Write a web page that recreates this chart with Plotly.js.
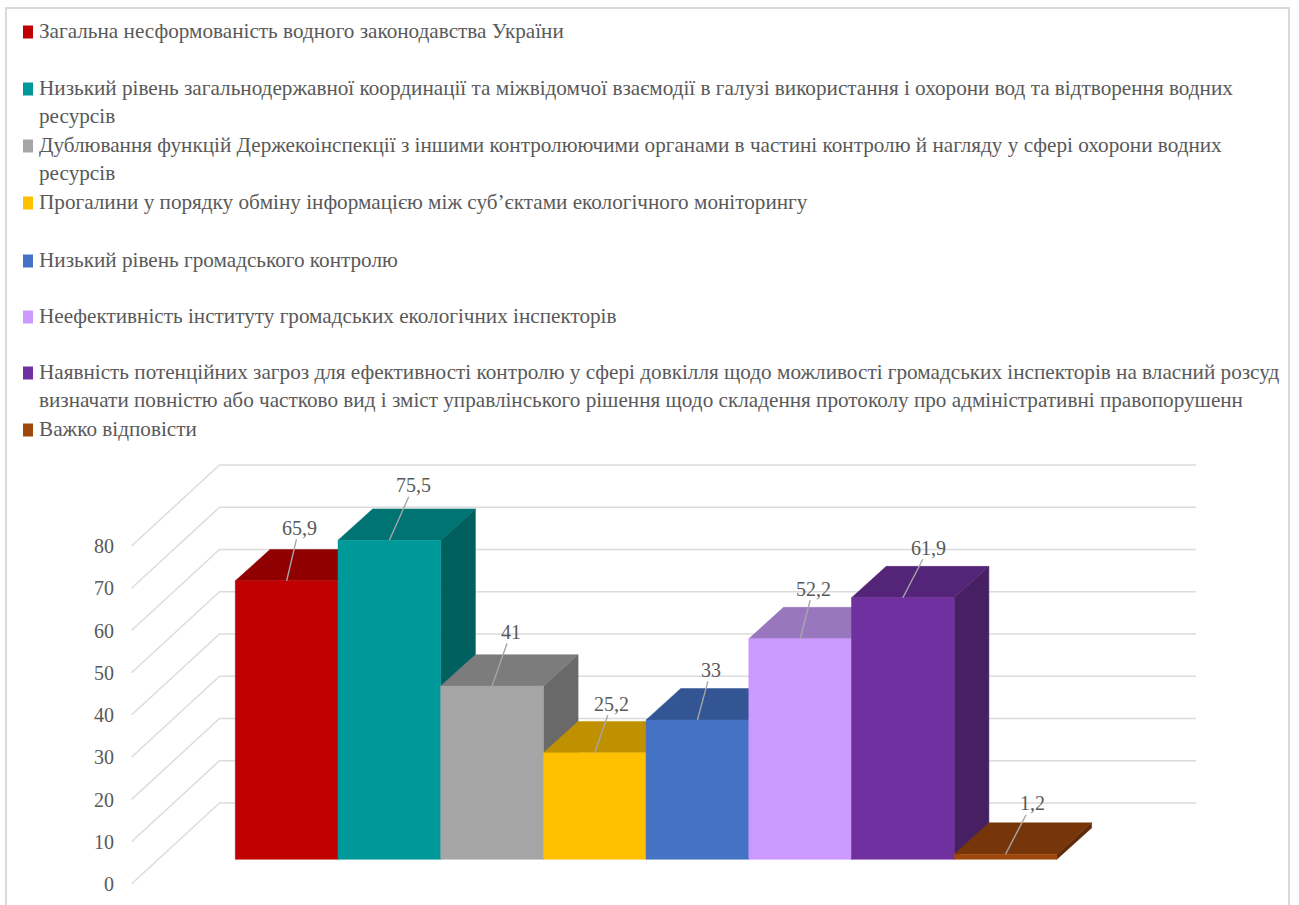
<!DOCTYPE html>
<html>
<head>
<meta charset="utf-8">
<script src="https://cdn.plot.ly/plotly-3.0.1.min.js"></script>
<style>html,body{margin:0;padding:0;background:#fff;overflow:hidden}#chart{width:1299px;height:905px}</style>
</head>
<body>
<div id="chart"></div>
<script>
// ---- data ----
const categories = [
  "Загальна несформованість водного законодавства України",
  "Низький рівень загальнодержавної координації та міжвідомчої взаємодії в галузі використання і охорони вод та відтворення водних<br>ресурсів",
  "Дублювання функцій Держекоінспекції з іншими контролюючими органами в частині контролю й нагляду у сфері охорони водних<br>ресурсів",
  "Прогалини у порядку обміну інформацією між суб’єктами екологічного моніторингу",
  "Низький рівень громадського контролю",
  "Неефективність інституту громадських екологічних інспекторів",
  "Наявність потенційних загроз для ефективності контролю у сфері довкілля щодо можливості громадських інспекторів на власний розсуд<br>визначати повністю або частково вид і зміст управлінського рішення щодо складення протоколу про адміністративні правопорушенн",
  "Важко відповісти"
];
const values = [65.9, 75.5, 41, 25.2, 33, 52.2, 61.9, 1.2];
const valueLabels = ["65,9", "75,5", "41", "25,2", "33", "52,2", "61,9", "1,2"];
const frontColors = ["#C00000", "#009999", "#A5A5A5", "#FFC000", "#4472C4", "#CC99FF", "#7030A0", "#9E480E"];
const topColors   = ["#900000", "#007373", "#7C7C7C", "#BF9000", "#335593", "#9977BF", "#542478", "#77360A"];
const sideColors  = ["#730000", "#006060", "#696969", "#997300", "#294476", "#7A5C99", "#472064", "#5F2B08"];
const yTicks = [0, 10, 20, 30, 40, 50, 60, 70, 80];

// ---- layout constants (pixels on the 1299x905 page) ----
const W = 1299, H = 905;
const barLeftPx = 235.3, barWidthPx = 102.7, barBasePx = 859.3, unitPx = 4.225;
const wallBasePx = 884, wallLeftPx = 131.5, wallBackPx = 219.5, wallRightPx = 1196, wallRisePx = 81;
const barDepthXPx = 34.7, barDepthYPx = 31.4;
const legendX = 38, legendFirstLineY = [32, 89, 146, 203, 261, 317, 373, 430];
const markerW = 10, markerH = 13;
const labelOffsets = [[12.5,-53],[24.5,-55],[19,-54],[17,-49],[13.5,-50],[13,-50],[26,-50],[26.5,-51]];
const textColor = "#595959", font = "Liberation Serif";
const legendSize = 21.2, lineH = legendSize * 1.3;

const pxX = p => (p - barLeftPx) / barWidthPx;
const dx = barDepthXPx / barWidthPx, dy = barDepthYPx / unitPx;
const rise = wallRisePx / unitPx;

const traces = [];
// wall grid: front diagonal, back horizontal, on the axis that carries the tick labels
yTicks.forEach(t => {
  traces.push({
    type: "scatter", mode: "lines", yaxis: "y", hoverinfo: "skip", showlegend: false,
    x: [pxX(wallLeftPx), pxX(wallBackPx), pxX(wallRightPx)],
    y: [t, t + rise, t + rise],
    line: { color: "#DCDCDC", width: 1.5 }
  });
});
// bars, on the overlaid axis, painted left to right: side, top, front
values.forEach((v, i) => {
  const face = (x, y, color) => traces.push({
    type: "scatter", mode: "lines", fill: "toself", fillcolor: color, yaxis: "y2",
    line: { color: color, width: 0.5 }, x, y, showlegend: false,
    name: categories[i], hoverinfo: "skip"
  });
  face([i+1, i+1, i+1+dx, i+1+dx, i+1], [0, v, v+dy, dy, 0], sideColors[i]);
  face([i, i+1, i+1+dx, i+dx, i], [v, v, v+dy, v+dy, v], topColors[i]);
  face([i, i+1, i+1, i, i], [0, 0, v, v, 0], frontColors[i]);
});

const annotations = [];
const shapes = [];
values.forEach((v, i) => annotations.push({
  x: i + 0.5, y: v, xref: "x", yref: "y2", text: valueLabels[i],
  showarrow: true, arrowhead: 0, arrowwidth: 1.4, arrowcolor: "#A6A6A6", standoff: 0,
  ax: labelOffsets[i][0], ay: labelOffsets[i][1],
  font: { family: font, size: 20, color: textColor }, borderpad: 0
}));
categories.forEach((c, i) => {
  const cy = legendFirstLineY[i];
  annotations.push({
    xref: "paper", yref: "paper", x: legendX / W, y: 1 - (cy - lineH / 2) / H,
    xanchor: "left", yanchor: "top", align: "left", showarrow: false, borderpad: 0,
    text: c, font: { family: font, size: legendSize, color: textColor }
  });
  shapes.push({
    type: "rect", xref: "paper", yref: "paper", line: { width: 0 }, fillcolor: frontColors[i],
    x0: 23 / W, x1: (23 + markerW) / W,
    y0: 1 - (cy - markerH / 2) / H, y1: 1 - (cy + markerH / 2) / H
  });
});
// outer frame, open below the page edge
shapes.push({
  type: "path", xref: "paper", yref: "paper", line: { color: "#D9D9D9", width: 2 },
  path: `M ${6/W} 0 L ${6/W} ${1-8/H} L ${1289/W} ${1-8/H} L ${1289/W} 0`
});

const layout = {
  width: W, height: H,
  margin: { l: 0, r: 0, t: 0, b: 0 },
  paper_bgcolor: "#fff", plot_bgcolor: "#fff",
  showlegend: false, hovermode: false,
  font: { family: font, color: textColor },
  xaxis: { range: [pxX(0), pxX(W)], visible: false, fixedrange: true },
  yaxis: {
    anchor: "free", position: 114 / W, side: "left",
    range: [(wallBasePx - H) / unitPx, wallBasePx / unitPx],
    tickmode: "array", tickvals: yTicks, ticktext: yTicks.map(String),
    showgrid: false, zeroline: false, showline: false, ticks: "", fixedrange: true,
    tickfont: { family: font, size: 20, color: textColor }
  },
  yaxis2: {
    overlaying: "y", visible: false, fixedrange: true,
    range: [(barBasePx - H) / unitPx, barBasePx / unitPx]
  },
  annotations, shapes
};
Plotly.newPlot("chart", traces, layout, { displayModeBar: false, staticPlot: true });
</script>
</body>
</html>
